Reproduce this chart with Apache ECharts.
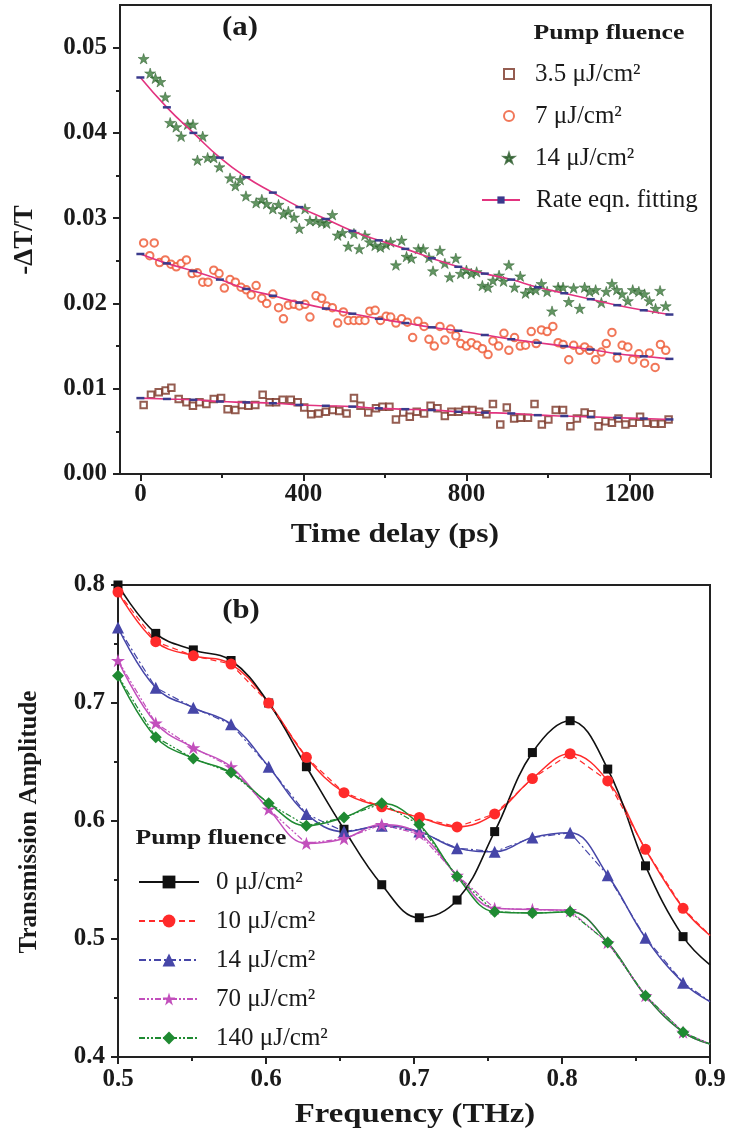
<!DOCTYPE html>
<html><head><meta charset="utf-8">
<script src="https://cdn.jsdelivr.net/npm/echarts@6/dist/echarts.min.js"></script>
<style>html,body{margin:0;padding:0;background:#fff}#c{width:731px;height:1135px}</style>
</head><body><div id="c"></div><script>
// ---------- Panel (a): -dT/T vs time delay ----------
const timeSq = [8,26,45,62,76,94,113,129,145,162,180,198,214,233,249,265,282,300,317,333,349,369,386,402,419,437,455,472,488,506,524,540,559,578,594,611,627,645,661,678,696,712,729,747,763,781,798,815,831,849,865,883,899,917,933,951,967,985,1001,1019,1037,1055,1071,1090,1106,1124,1141,1157,1173,1190,1208,1226,1242,1261,1279,1296];
const dT35 = [0.0081,0.0093,0.0096,0.0098,0.0101,0.0088,0.0084,0.0080,0.0084,0.0082,0.0088,0.0089,0.0076,0.0075,0.0081,0.0080,0.0081,0.0093,0.0084,0.0084,0.0087,0.0087,0.0084,0.0078,0.0070,0.0071,0.0073,0.0075,0.0074,0.0071,0.0089,0.0080,0.0072,0.0077,0.0079,0.0079,0.0064,0.0072,0.0067,0.0073,0.0071,0.0080,0.0077,0.0068,0.0073,0.0073,0.0075,0.0075,0.0073,0.0070,0.0082,0.0058,0.0078,0.0065,0.0066,0.0066,0.0082,0.0058,0.0064,0.0075,0.0075,0.0056,0.0065,0.0072,0.0070,0.0056,0.0062,0.0060,0.0065,0.0058,0.0060,0.0067,0.0060,0.0059,0.0059,0.0064];

const timeRed = [8,23,34,47,61,75,88,100,113,127,140,153,166,180,193,206,220,233,247,260,272,284,298,310,325,339,351,363,377,390,404,416,431,445,457,471,484,498,510,524,537,551,563,576,589,603,614,627,641,655,668,681,696,708,721,735,747,761,774,786,800,812,826,839,853,865,879,892,904,918,932,945,959,971,984,998,1012,1025,1037,1051,1063,1078,1090,1102,1117,1131,1143,1157,1170,1182,1196,1208,1223,1237,1249,1263,1276,1289];
const dT7 = [0.0271,0.0256,0.0271,0.0248,0.0251,0.0246,0.0243,0.0247,0.0251,0.0235,0.0236,0.0225,0.0225,0.0239,0.0235,0.0218,0.0228,0.0225,0.0219,0.0216,0.0210,0.0221,0.0206,0.0200,0.0211,0.0195,0.0182,0.0198,0.0199,0.0197,0.0199,0.0184,0.0209,0.0206,0.0197,0.0195,0.0177,0.0190,0.0180,0.0180,0.0180,0.0180,0.0191,0.0192,0.0180,0.0185,0.0184,0.0177,0.0182,0.0178,0.0160,0.0179,0.0173,0.0158,0.0150,0.0173,0.0157,0.0170,0.0162,0.0153,0.0150,0.0154,0.0151,0.0147,0.0140,0.0156,0.0150,0.0165,0.0145,0.0160,0.0150,0.0151,0.0167,0.0153,0.0169,0.0167,0.0173,0.0154,0.0152,0.0134,0.0151,0.0145,0.0149,0.0145,0.0134,0.0143,0.0153,0.0166,0.0136,0.0151,0.0149,0.0134,0.0141,0.0130,0.0142,0.0125,0.0152,0.0145];

const timeGreen = [8,24,37,49,61,73,88,100,116,129,140,153,165,180,194,220,233,245,259,284,298,310,325,339,351,363,377,390,404,416,431,445,457,471,484,496,510,524,537,551,563,576,589,603,614,627,641,653,665,682,694,708,718,735,747,759,774,786,800,812,825,839,853,865,880,891,904,918,932,945,957,970,984,998,1010,1025,1037,1051,1063,1078,1090,1102,1117,1131,1143,1157,1169,1182,1196,1208,1223,1237,1249,1264,1275,1289];
const dT14 = [0.0487,0.0470,0.0464,0.0460,0.0442,0.0412,0.0407,0.0396,0.0410,0.0410,0.0368,0.0396,0.0371,0.0371,0.0360,0.0347,0.0338,0.0345,0.0326,0.0318,0.0322,0.0317,0.0311,0.0316,0.0305,0.0308,0.0301,0.0288,0.0311,0.0297,0.0297,0.0295,0.0294,0.0304,0.0280,0.0283,0.0267,0.0282,0.0264,0.0280,0.0272,0.0268,0.0266,0.0269,0.0272,0.0245,0.0274,0.0255,0.0253,0.0264,0.0264,0.0254,0.0238,0.0262,0.0247,0.0231,0.0253,0.0235,0.0239,0.0235,0.0237,0.0221,0.0219,0.0227,0.0233,0.0226,0.0245,0.0219,0.0232,0.0212,0.0216,0.0216,0.0223,0.0214,0.0191,0.0219,0.0219,0.0202,0.0218,0.0194,0.0219,0.0214,0.0216,0.0201,0.0214,0.0223,0.0216,0.0211,0.0203,0.0216,0.0214,0.0211,0.0203,0.0194,0.0215,0.0197];

const fitTime = [0,65,130,195,260,325,390,455,520,585,650,715,780,845,910,975,1040,1105,1170,1235,1298];
const fit35 = [0.0089,0.0088,0.0087,0.0085,0.0084,0.0083,0.0081,0.0080,0.0079,0.0077,0.0076,0.0075,0.0073,0.0072,0.0071,0.0069,0.0068,0.0067,0.0066,0.0065,0.0064];
const fit7  = [0.0258,0.0247,0.0238,0.0228,0.0217,0.0209,0.0201,0.0194,0.0188,0.0182,0.0177,0.0172,0.0168,0.0163,0.0158,0.0154,0.0150,0.0146,0.0141,0.0138,0.0135];
const fit14 = [0.0465,0.0430,0.0400,0.0371,0.0348,0.0330,0.0313,0.0299,0.0285,0.0274,0.0264,0.0253,0.0243,0.0235,0.0228,0.0219,0.0212,0.0205,0.0198,0.0192,0.0187];

const aXLabels = [0,400,800,1200];
const aXMinor = [200,600,1000,1400];
const aYLabels = [0,0.01,0.02,0.03,0.04,0.05];
const aYMinor = [0.005,0.015,0.025,0.035,0.045];

// ---------- Panel (b): transmission amplitude vs frequency ----------
const freq = [0.5,0.5255,0.5509,0.5764,0.6018,0.6273,0.6527,0.6782,0.7036,0.7291,0.7545,0.78,0.8055,0.8309,0.8564,0.8818,0.9];
const amp0   = [0.800,0.759,0.745,0.736,0.700,0.646,0.593,0.546,0.518,0.533,0.591,0.658,0.685,0.644,0.562,0.502,0.478];
const amp10  = [0.794,0.752,0.740,0.733,0.700,0.654,0.624,0.612,0.603,0.595,0.606,0.636,0.657,0.634,0.576,0.526,0.503];
const amp14  = [0.764,0.713,0.696,0.682,0.646,0.606,0.591,0.596,0.591,0.577,0.574,0.586,0.590,0.554,0.501,0.463,0.447];
const amp70  = [0.736,0.683,0.662,0.646,0.610,0.581,0.585,0.597,0.589,0.554,0.526,0.525,0.524,0.497,0.452,0.421,0.411];
const amp140 = [0.723,0.671,0.653,0.641,0.615,0.596,0.603,0.615,0.597,0.553,0.523,0.522,0.523,0.497,0.452,0.421,0.411];

const bXLabels = [0.5,0.6,0.7,0.8,0.9];
const bXMinor = [0.55,0.65,0.75,0.85];
const bYLabels = [0.4,0.5,0.6,0.7,0.8];
const bYMinor = [0.45,0.55,0.65,0.75];

const namesA = ['3.5 μJ/cm²','7 μJ/cm²','14 μJ/cm²','Rate eqn. fitting'];
const namesB = ['0 μJ/cm²','10 μJ/cm²','14 μJ/cm²','70 μJ/cm²','140 μJ/cm²'];

// ---------- build ----------
const SERIF = '"Liberation Serif","Times New Roman",serif';
const INK = '#1a1a1a';
const STAR = 'path://M50 0 L61.2 34.6 L97.6 34.5 L68.1 55.9 L79.4 90.5 L50 69 L20.6 90.5 L31.9 55.9 L2.4 34.5 L38.8 34.6 Z';
const PB = 'b|'; // internal prefix so panel (b) names stay distinct from panel (a)
const zip = (xs, ys) => xs.map((x, i) => [x, ys[i]]);
const zipEnd = (xs, ys) => xs.map((x, i) => i === xs.length - 1 ? {value: [x, ys[i]], symbol: 'none'} : [x, ys[i]]);

function mainAxis(grid, pos, min, max, labels, fmt, margin) {
  return {gridIndex: grid, type: 'value', position: pos, min: min, max: max,
    axisLine: {show: true, onZero: false, lineStyle: {color: '#222', width: 2}},
    axisTick: {show: true, inside: false, length: 7, customValues: labels, lineStyle: {color: '#222', width: 2}},
    axisLabel: {show: true, customValues: labels, formatter: fmt, margin: margin,
      fontFamily: SERIF, fontWeight: 'bold', fontSize: 25, color: INK},
    splitLine: {show: false}, minorTick: {show: false}};
}
function minorAxis(grid, pos, min, max, vals) {
  return {gridIndex: grid, type: 'value', position: pos, min: min, max: max,
    axisLine: {show: false, onZero: false},
    axisTick: {show: true, inside: false, length: 4, customValues: vals, lineStyle: {color: '#222', width: 2}},
    axisLabel: {show: false}, splitLine: {show: false}};
}

const gridStyle = {show: true, borderColor: '#222', borderWidth: 2, backgroundColor: 'rgba(0,0,0,0)', containLabel: false, outerBoundsMode: 'none'};
const legendText = pad => ({fontFamily: SERIF, fontSize: 25, color: INK, lineHeight: 30, padding: [0, 0, 0, pad]});

const series = [];
// (a) scatter
series.push({type: 'scatter', name: namesA[0], xAxisIndex: 0, yAxisIndex: 0, data: zip(timeSq, dT35),
  symbol: 'emptyRect', symbolKeepAspect: true, symbolSize: 6.5, itemStyle: {color: '#7b3526', borderWidth: 1.3}, z: 3});
series.push({type: 'scatter', name: namesA[1], xAxisIndex: 0, yAxisIndex: 0, data: zip(timeRed, dT7),
  symbol: 'emptyCircle', symbolKeepAspect: true, symbolSize: 7.5, itemStyle: {color: '#ee5530', borderWidth: 1.3}, z: 3});
series.push({type: 'scatter', name: namesA[2], xAxisIndex: 0, yAxisIndex: 0, data: zip(timeGreen, dT14),
  symbol: STAR, symbolKeepAspect: true, symbolSize: 11, itemStyle: {color: '#3b7a3b', borderColor: '#285828', borderWidth: 0.6}, z: 3});
[fit35, fit7, fit14].forEach(f => {
  series.push({type: 'line', name: namesA[3], xAxisIndex: 0, yAxisIndex: 0, data: zip(fitTime, f),
    smooth: true, symbol: 'rect', symbolSize: [8, 2.5], showSymbol: true,
    lineStyle: {color: '#e2337f', width: 1.6}, itemStyle: {color: '#3a3a8c'}, z: 4});
});

// (b) lines
const bDefs = [
  {name: namesB[0], y: amp0,   color: '#111111', sym: 'rect',     size: 9,  dash: 'solid'},
  {name: namesB[1], y: amp10,  color: '#ff2a2a', sym: 'circle',   size: 11, dash: [6, 4]},
  {name: namesB[2], y: amp14,  color: '#4646a8', sym: 'triangle', size: 12, dash: [7, 3, 2, 3]},
  {name: namesB[3], y: amp70,  color: '#c24fbc', sym: STAR,       size: 14, dash: [6, 2, 2, 2, 2, 2]},
  {name: namesB[4], y: amp140, color: '#1f8a32', sym: 'diamond',  size: 12, dash: [6, 2, 2, 2, 2, 2]}
];
bDefs.forEach((d, i) => {
  if (i > 0) {
    series.push({type: 'line', xAxisIndex: 2, yAxisIndex: 2, data: zip(freq, d.y), smooth: 0.4,
      symbol: 'none', silent: true, lineStyle: {color: d.color, width: 1.5}, z: 2});
  }
  series.push({type: 'line', name: PB + d.name, xAxisIndex: 2, yAxisIndex: 2, data: zipEnd(freq, d.y),
    smooth: i === 0 ? 0.4 : false, symbol: d.sym, symbolKeepAspect: true, symbolSize: d.size, showSymbol: true,
    lineStyle: {color: d.color, width: i === 0 ? 1.6 : 1.2, type: d.dash}, itemStyle: {color: d.color}, z: 3});
});

function txt(x, y, s, size, bold, scaleX, rot) {
  return {type: 'text', x: x, y: y, rotation: rot || 0, scaleX: scaleX || 1, z: 100,
    style: {text: s, fontFamily: SERIF, fontSize: size, fontWeight: bold ? 'bold' : 'normal', fill: INK,
      align: 'center', verticalAlign: 'middle'}};
}

const option = {
  animation: false,
  backgroundColor: '#ffffff',
  grid: [
    Object.assign({left: 120, top: 5, width: 591, height: 469}, gridStyle),
    Object.assign({left: 118, top: 585, width: 592, height: 472}, gridStyle)
  ],
  xAxis: [
    mainAxis(0, 'bottom', -50, 1400, aXLabels, v => String(v), 8),
    minorAxis(0, 'bottom', -50, 1400, aXMinor),
    mainAxis(1, 'bottom', 0.5, 0.9, bXLabels, v => v.toFixed(1), 10),
    minorAxis(1, 'bottom', 0.5, 0.9, bXMinor)
  ],
  yAxis: [
    mainAxis(0, 'left', 0, 0.055, aYLabels, v => v.toFixed(2), 13),
    minorAxis(0, 'left', 0, 0.055, aYMinor),
    mainAxis(1, 'left', 0.4, 0.8, bYLabels, v => v.toFixed(1), 13),
    minorAxis(1, 'left', 0.4, 0.8, bYMinor)
  ],
  legend: [
    {data: namesA.slice(0, 3), orient: 'vertical', left: 498, top: 54, itemWidth: 10, itemHeight: 10, itemGap: 12,
      selectedMode: false, textStyle: legendText(16)},
    {data: namesA.slice(3), orient: 'vertical', left: 476, top: 180, itemWidth: 38, itemHeight: 9, itemGap: 12,
      selectedMode: false, textStyle: legendText(11)},
    {data: namesB.map(n => PB + n), formatter: n => n.slice(PB.length), orient: 'vertical', left: 133, top: 862,
      itemWidth: 60, itemHeight: 16, itemGap: 9, selectedMode: false, textStyle: legendText(12)}
  ],
  graphic: [
    txt(240, 28, '(a)', 28, true, 1.1),
    txt(609, 33, 'Pump fluence', 22, true, 1.17),
    txt(25, 240, '-ΔT/T', 27, true, 1, Math.PI / 2),
    txt(395, 535, 'Time delay (ps)', 27, true, 1.17),
    txt(241, 611, '(b)', 28, true, 1.1),
    txt(211, 838, 'Pump fluence', 22, true, 1.17),
    txt(30, 822, 'Transmission Amplitude', 25, true, 1, Math.PI / 2),
    txt(415, 1115, 'Frequency (THz)', 28, true, 1.17)
  ],
  series: series
};

const chart = echarts.init(document.getElementById('c'), null, {renderer: 'canvas'});
chart.setOption(option);
</script></body></html>
